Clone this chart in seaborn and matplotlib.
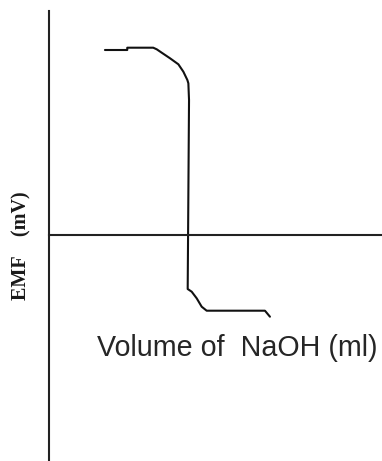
import matplotlib
matplotlib.use("Agg")
import matplotlib.pyplot as plt
import pandas as pd
import seaborn as sns

# Titration curve: EMF against volume of NaOH added
volume_ml = [3.36, 4.70, 4.70, 6.26, 6.47, 6.77, 7.27, 7.77, 8.07, 8.31, 8.37,
             8.41, 8.33, 8.57, 8.87, 9.17, 9.47, 12.97, 13.27]
emf_mv = [370, 370, 374.6, 374.6, 371.4, 364.6, 353.4, 341.4, 326.6, 310, 303.4,
          270, -108, -113.4, -126.6, -143.4, -151.4, -151.4, -163.4]

x_label = "Volume of  NaOH (ml)"
y_label = "EMF    (mV)"

sns.set_theme(style="white")
plt.rcParams["font.family"] = ["Liberation Sans", "DejaVu Sans"]

df = pd.DataFrame({"volume": volume_ml, "emf": emf_mv, "step": range(len(volume_ml))})

fig = plt.figure(figsize=(3.82, 4.61), dpi=100)
ax = fig.add_axes([49 / 382, 0.0, 333 / 382, 450 / 461])

sns.lineplot(data=df, x="volume", y="emf", sort=False, estimator=None,
             color="#111111", linewidth=1.5, ax=ax)

ax.set_xlim(0, 20)
ax.set_ylim(-452, 448)
ax.set_xticks([])
ax.set_yticks([])
ax.set_xlabel("")
ax.set_ylabel("")

for side in ("top", "right"):
    ax.spines[side].set_visible(False)
ax.spines["left"].set_color("#222222")
ax.spines["left"].set_linewidth(1.5)
ax.spines["bottom"].set_position(("data", 0))
ax.spines["bottom"].set_color("#222222")
ax.spines["bottom"].set_linewidth(1.5)

fig.text(97 / 382, 1 - 356 / 461, x_label, fontsize=20.6, ha="left", va="baseline",
         family=["Liberation Sans", "DejaVu Sans"], color="#262626")
fig.text(21 / 382, 1 - 246 / 461, y_label, rotation=90, fontsize=14.5,
         fontweight="bold", ha="center", va="center",
         family=["Liberation Serif", "DejaVu Serif"], color="#1a1a1a")

fig.savefig("out.png", dpi=100, facecolor="white")
